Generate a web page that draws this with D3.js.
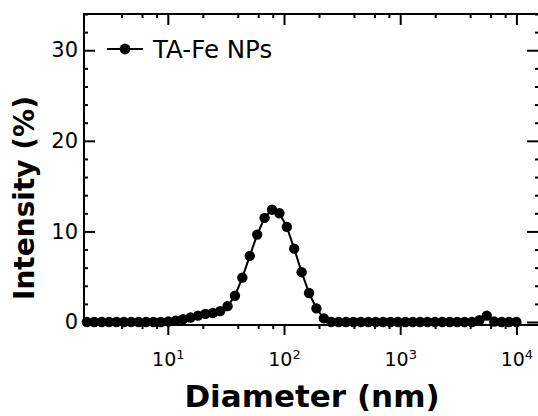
<!DOCTYPE html>
<html>
<head>
<meta charset="utf-8">
<script src="https://cdn.jsdelivr.net/npm/d3@7"></script>
<style>
  body { margin: 0; background: #fff; }
  svg { display: block; }
</style>
</head>
<body>
<div id="chart"></div>
<script>
// Data (size classes in nm, intensity in %)
const sizes = [2.01, 2.328, 2.696, 3.122, 3.615, 4.187, 4.849, 5.615, 6.503, 7.531, 8.721,
  10.1, 11.7, 13.54, 15.69, 18.17, 21.04, 24.36, 28.21, 32.67, 37.84, 43.82, 50.75, 58.77,
  68.06, 78.82, 91.28, 105.7, 122.4, 141.8, 164.2, 190.1, 220.2, 255.0, 295.3, 342.0, 396.1,
  458.7, 531.2, 615.1, 712.4, 825.0, 955.4, 1106, 1281, 1484, 1718, 1990, 2305, 2669, 3091,
  3580, 4145, 4801, 5560, 6439, 7456, 8635, 10000];
const intensity = [0, 0, 0, 0, 0, 0, 0, 0, 0, 0, 0,
  0.05, 0.15, 0.3, 0.5, 0.7, 0.9, 1.0, 1.2, 1.75, 2.9, 4.9, 7.3, 9.65,
  11.5, 12.4, 12.0, 10.5, 8.1, 5.5, 3.2, 1.5, 0.4, 0, 0, 0, 0,
  0, 0, 0, 0, 0, 0, 0, 0, 0, 0, 0, 0, 0, 0,
  0, 0, 0.2, 0.7, 0.05, 0, 0, 0];
const seriesName = "TA-Fe NPs";
const xMajor = [10, 100, 1000, 10000];
const minorMult = [2, 4, 6, 8];
const yMajor = [0, 10, 20, 30];
const yMinor = [2, 4, 6, 8, 12, 14, 16, 18, 22, 24, 26, 28, 32, 34];

const data = sizes.map((s, i) => ({ size: s, value: intensity[i] }));

const width = 538;
const height = 416;
const plot = { left: 84, right: 539, top: 14, bottom: 325 };
const font = "'DejaVu Sans', Verdana, sans-serif";

const svg = d3.select("#chart")
  .append("svg")
  .attr("width", width)
  .attr("height", height)
  .style("font-family", font);

const x = d3.scaleLog().domain([1.9, 15650]).range([plot.left, plot.right]);
const y = d3.scaleLinear().domain([-0.33, 34]).range([plot.bottom, plot.top]);

// minor x ticks: 2,4,6,8 x each decade
const xMinor = [];
[1, 10, 100, 1000, 10000].forEach(dec => minorMult.forEach(m => {
  const v = dec * m;
  if (v > 2.5 && v < 15000) xMinor.push(v);
}));

function styleAxis(g) {
  g.select(".domain").remove();
  g.selectAll(".tick line").attr("stroke", "#000").attr("stroke-width", 2);
}

// bottom axis (ticks outward)
svg.append("g")
  .attr("transform", `translate(0,${plot.bottom})`)
  .call(d3.axisBottom(x).tickValues(xMinor).tickSize(4).tickFormat(""))
  .call(styleAxis);

const xAxis = svg.append("g")
  .attr("transform", `translate(0,${plot.bottom})`)
  .call(d3.axisBottom(x).tickValues(xMajor).tickSize(10).tickFormat(""))
  .call(styleAxis);

xAxis.selectAll(".tick text")
  .attr("y", 41)
  .attr("dy", null)
  .attr("fill", "#000")
  .style("font-size", "19px")
  .style("font-family", font)
  .each(function (d) {
    const t = d3.select(this);
    t.text(null);
    t.append("tspan").text("10");
    t.append("tspan")
      .attr("dy", "-0.55em")
      .style("font-size", "13px")
      .text(Math.round(Math.log10(d)));
  });

// top axis (ticks inward)
svg.append("g")
  .attr("transform", `translate(0,${plot.top})`)
  .call(d3.axisTop(x).tickValues(xMinor).tickSize(-4).tickFormat(""))
  .call(styleAxis);
svg.append("g")
  .attr("transform", `translate(0,${plot.top})`)
  .call(d3.axisTop(x).tickValues(xMajor).tickSize(-11).tickFormat(""))
  .call(styleAxis);

// left axis (ticks inward)
svg.append("g")
  .attr("transform", `translate(${plot.left},0)`)
  .call(d3.axisLeft(y).tickValues(yMinor).tickSize(-4).tickFormat(""))
  .call(styleAxis);
const yAxis = svg.append("g")
  .attr("transform", `translate(${plot.left},0)`)
  .call(d3.axisLeft(y).tickValues(yMajor).tickSize(-11).tickPadding(6))
  .call(styleAxis);
yAxis.selectAll(".tick text")
  .attr("fill", "#000")
  .style("font-size", "21px")
  .style("font-family", font);

// right axis (ticks inward)
svg.append("g")
  .attr("transform", `translate(${plot.right},0)`)
  .call(d3.axisRight(y).tickValues(yMinor).tickSize(-4).tickFormat(""))
  .call(styleAxis);
svg.append("g")
  .attr("transform", `translate(${plot.right},0)`)
  .call(d3.axisRight(y).tickValues(yMajor).tickSize(-12).tickFormat(""))
  .call(styleAxis);

// frame
svg.append("rect")
  .attr("x", plot.left)
  .attr("y", plot.top)
  .attr("width", plot.right - plot.left)
  .attr("height", plot.bottom - plot.top)
  .attr("fill", "none")
  .attr("stroke", "#000")
  .attr("stroke-width", 2);

// line + markers
const line = d3.line()
  .x(d => x(d.size))
  .y(d => y(d.value));

svg.append("path")
  .datum(data)
  .attr("d", line)
  .attr("fill", "none")
  .attr("stroke", "#000")
  .attr("stroke-width", 2);

svg.append("g")
  .selectAll("circle")
  .data(data)
  .join("circle")
  .attr("cx", d => x(d.size))
  .attr("cy", d => y(d.value))
  .attr("r", 5.2)
  .attr("fill", "#000");

// legend
const legend = svg.append("g").attr("transform", "translate(107,49)");
legend.append("line")
  .attr("x1", 0).attr("x2", 36)
  .attr("stroke", "#000").attr("stroke-width", 2);
legend.append("circle").attr("cx", 18).attr("r", 5.4).attr("fill", "#000");
legend.append("text")
  .attr("x", 46)
  .attr("y", 9)
  .style("font-size", "24.5px")
  .text(seriesName);

// axis titles
svg.append("text")
  .attr("x", 312)
  .attr("y", 407)
  .attr("text-anchor", "middle")
  .style("font-size", "31px")
  .style("font-weight", "bold")
  .text("Diameter (nm)");

svg.append("text")
  .attr("transform", "translate(34,198) rotate(-90)")
  .attr("text-anchor", "middle")
  .style("font-size", "28px")
  .style("font-weight", "bold")
  .text("Intensity (%)");
</script>
</body>
</html>
